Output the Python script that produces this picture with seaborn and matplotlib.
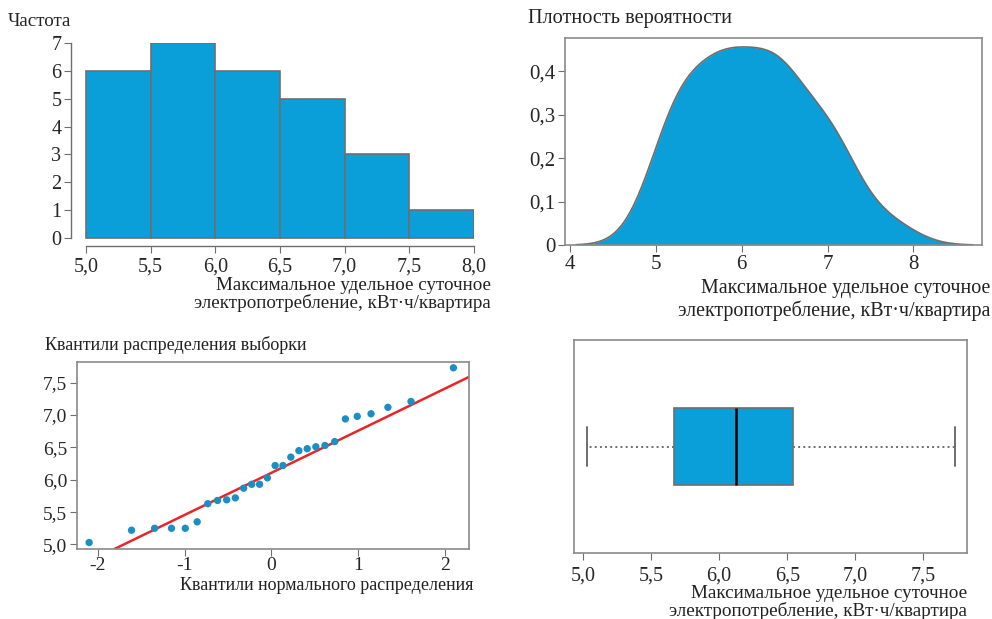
import numpy as np
import pandas as pd
import matplotlib
matplotlib.use("Agg")
import matplotlib.pyplot as plt
import seaborn as sns
from statistics import NormalDist
from matplotlib.ticker import FuncFormatter

# ---- data ----
consumption = [5.03, 5.22, 5.25, 5.25, 5.25, 5.35, 5.63, 5.68, 5.69, 5.72,
               5.87, 5.93, 5.93, 6.03, 6.22, 6.22, 6.35, 6.45, 6.48, 6.51,
               6.53, 6.59, 6.94, 6.98, 7.02, 7.12, 7.21, 7.73]
hist_xticks = [5.0, 5.5, 6.0, 6.5, 7.0, 7.5, 8.0]
hist_yticks = [0, 1, 2, 3, 4, 5, 6, 7]
dens_xticks = [4, 5, 6, 7, 8]
dens_yticks = [0.0, 0.1, 0.2, 0.3, 0.4]
qq_xticks = [-2, -1, 0, 1, 2]
qq_yticks = [5.0, 5.5, 6.0, 6.5, 7.0, 7.5]
box_xticks = [5.0, 5.5, 6.0, 6.5, 7.0, 7.5]

xlabel_1 = "Максимальное удельное суточное"
xlabel_2 = "электропотребление, кВт·ч/квартира"

FILL = "#0a9fd8"
EDGE = "#6e6e6e"
FRAME = "#8a8a8a"
DOT = "#1b8fc4"
RED = "#e8262a"

sns.set_style("white")
plt.rcParams["font.family"] = ["Liberation Serif", "DejaVu Serif"]

W, H = 992, 619
fig = plt.figure(figsize=(W / 100, H / 100), dpi=100)


def ax_px(l, t, r, b):
    return fig.add_axes([l / W, 1 - b / H, (r - l) / W, (b - t) / H])


def ftext(x, y, s, size, ha="left"):
    fig.text(x / W, 1 - y / H, s, fontsize=size, ha=ha, va="center", color="#222222")


comma = FuncFormatter(lambda v, p: f"{v:.1f}".replace(".", ","))
comma0 = FuncFormatter(lambda v, p: "0" if abs(v) < 1e-9 else f"{v:.1f}".replace(".", ","))

df = pd.DataFrame({"x": consumption})

# ---- histogram ----
ax1 = ax_px(71, 43, 474, 246)
sns.histplot(data=df, x="x", binwidth=0.5, binrange=(5.0, 8.0), ax=ax1,
             color=FILL, alpha=1, edgecolor=EDGE, linewidth=1.2)
ax1.set_xlim(4.884, 8.0)
ax1.set_ylim(-0.29, 7)
for s in ["top", "right"]:
    ax1.spines[s].set_visible(False)
ax1.spines["left"].set_bounds(0, 7)
ax1.spines["bottom"].set_bounds(5.0, 8.0)
for s in ["left", "bottom"]:
    ax1.spines[s].set_color(EDGE)
    ax1.spines[s].set_linewidth(1.0)
ax1.set_xticks(hist_xticks)
ax1.set_yticks(hist_yticks)
ax1.xaxis.set_major_formatter(comma)
ax1.tick_params(axis="both", which="both", direction="out", length=5, color=EDGE,
                labelsize=14.5, left=True, bottom=True, pad=2)
ax1.tick_params(axis="x", pad=3)
ax1.set_xlabel("")
ax1.set_ylabel("")
ftext(8, 22, "Частота", 13.7)
ftext(491, 285, xlabel_1, 13.7, ha="right")
ftext(491, 303, xlabel_2, 13.7, ha="right")

# ---- density ----
ax2 = ax_px(565, 38, 982, 245)
sns.kdeplot(data=df, x="x", ax=ax2, fill=True, bw_adjust=0.88, cut=3,
            color=FILL, alpha=1, linewidth=0)
sns.kdeplot(data=df, x="x", ax=ax2, fill=False, bw_adjust=0.88, cut=3,
            color=EDGE, linewidth=1.2)
ax2.set_xlim(3.94, 8.80)
ax2.set_ylim(0, 0.477)
ax2.set_xticks(dens_xticks)
ax2.set_yticks(dens_yticks)
ax2.yaxis.set_major_formatter(comma0)
ax2.xaxis.set_major_formatter(FuncFormatter(lambda v, p: f"{v:.0f}"))
for s in ax2.spines.values():
    s.set_color(FRAME)
    s.set_linewidth(1.2)
ax2.tick_params(axis="both", direction="out", length=5, color=EDGE, labelsize=15,
                left=True, bottom=True, pad=2)
ax2.set_xlabel("")
ax2.set_ylabel("")
ftext(528, 18, "Плотность вероятности", 14.6)
ftext(990, 288, xlabel_1, 14.4, ha="right")
ftext(990, 311, xlabel_2, 14.4, ha="right")

# ---- QQ plot ----
n = len(consumption)
sample = np.sort(np.array(consumption))
theo = np.array([NormalDist().inv_cdf((i - 0.5) / n) for i in range(1, n + 1)])
q1, q3 = np.percentile(sample, [25, 75])
z1, z3 = NormalDist().inv_cdf(0.25), NormalDist().inv_cdf(0.75)
slope = (q3 - q1) / (z3 - z1)
intercept = q1 - slope * z1

ax3 = ax_px(77, 362, 469, 549)
sns.scatterplot(x=theo, y=sample, ax=ax3, color=DOT, s=28, edgecolor="none", zorder=3)
ax3.axline((0, intercept), slope=slope, color=RED, linewidth=1.8, zorder=2)
ax3.set_xlim(-2.24, 2.28)
ax3.set_ylim(4.93, 7.82)
ax3.set_xticks(qq_xticks)
ax3.set_yticks(qq_yticks)
ax3.yaxis.set_major_formatter(comma)
ax3.xaxis.set_major_formatter(FuncFormatter(lambda v, p: f"{v:.0f}"))
for s in ax3.spines.values():
    s.set_color(FRAME)
    s.set_linewidth(1.2)
ax3.tick_params(axis="both", direction="out", length=5, color=EDGE, labelsize=14,
                left=True, bottom=True, pad=2)
ax3.tick_params(axis="x", pad=1)
ftext(45, 345, "Квантили распределения выборки", 13)
ftext(473, 586, "Квантили нормального распределения", 13, ha="right")

# ---- box plot ----
ax4 = ax_px(574, 340, 967, 553)
sns.boxplot(data=df, x="x", ax=ax4, width=0.366, whis=(0, 100), color=FILL,
            saturation=1, linecolor=EDGE, linewidth=1.2,
            medianprops=dict(color="black", linewidth=1.8),
            whiskerprops=dict(linestyle=":", color=EDGE, linewidth=1.4),
            capprops=dict(color=EDGE, linewidth=1.4))
ax4.set_xlim(4.934, 7.82)
ax4.set_ylim(0.5, -0.5)
ax4.set_xticks(box_xticks)
ax4.set_yticks([])
ax4.xaxis.set_major_formatter(comma)
for s in ax4.spines.values():
    s.set_visible(True)
    s.set_color(FRAME)
    s.set_linewidth(1.2)
ax4.tick_params(axis="x", direction="out", length=5, color=EDGE, labelsize=14.5,
                bottom=True, pad=5)
ax4.set_xlabel("")
ax4.set_ylabel("")
ftext(967, 593, xlabel_1, 13.8, ha="right")
ftext(967, 611, xlabel_2, 13.8, ha="right")

fig.savefig("out.png", dpi=100)
